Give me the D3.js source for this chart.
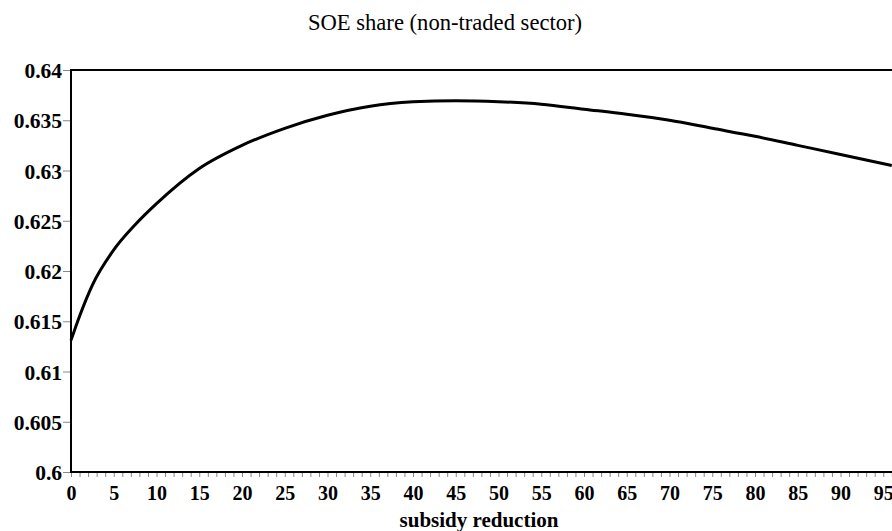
<!DOCTYPE html>
<html>
<head>
<meta charset="utf-8">
<script src="https://cdn.jsdelivr.net/npm/d3@7"></script>
</head>
<body style="margin:0;background:#fff">
<svg id="chart" width="892" height="531" style="display:block"></svg>
<script>
// ---- data ----
const xValues = [0, 1, 2.5, 5, 7.5, 10, 15, 20, 25, 30, 35, 40, 45, 50, 55, 60, 65, 70, 75, 80, 85, 90, 96];
const soeShare = [0.6131, 0.6155, 0.6186, 0.6221, 0.6246, 0.6267, 0.6302, 0.6325, 0.6342, 0.6355, 0.6364, 0.63683, 0.63695, 0.63685, 0.6366, 0.6361, 0.6356, 0.6350, 0.6342, 0.6334, 0.6325, 0.6316, 0.6305];
const yTickValues = [0.6, 0.605, 0.61, 0.615, 0.62, 0.625, 0.63, 0.635, 0.64];
const yTickLabels = ["0.6", "0.605", "0.61", "0.615", "0.62", "0.625", "0.63", "0.635", "0.64"];
const xTickLabels = [0, 5, 10, 15, 20, 25, 30, 35, 40, 45, 50, 55, 60, 65, 70, 75, 80, 85, 90, 95];
const titleText = "SOE share (non-traded sector)";
const xAxisTitle = "subsidy reduction";

(function () {
const FONT = "Liberation Serif";
const W = 892, H = 531;
const mLeft = 71, mTop = 70, mBottom = 472;
const svg = d3.select("#chart");

const x = d3.scaleLinear().domain([0, 100]).range([mLeft, mLeft + 855]);
const y = d3.scaleLinear().domain([0.6, 0.64]).range([mBottom, mTop]);

function serif(sel, size, bold) {
  sel.attr("font-family", FONT)
     .style("font-family", FONT)
     .style("font-size", size + "px")
     .style("font-weight", bold ? "bold" : "normal")
     .style("fill", "#000");
  return sel;
}

// title
serif(svg.append("text")
  .attr("x", 445).attr("y", 30)
  .attr("text-anchor", "middle"), 22.6, false)
  .text(titleText);

// minor x ticks (every unit)
const minorTicks = d3.range(0, 97, 1);
const xMinor = d3.axisBottom(x).tickValues(minorTicks).tickSize(5).tickFormat("");
const gMinor = svg.append("g").attr("transform", `translate(0,${mBottom})`).call(xMinor);
gMinor.select(".domain").remove();
gMinor.selectAll("line").attr("stroke", "#888").attr("stroke-width", 1);

// x tick labels
const xAxis = d3.axisBottom(x).tickValues(xTickLabels).tickSize(0).tickPadding(0).tickFormat(d => d);
const gx = svg.append("g").attr("transform", `translate(0,${mBottom})`).call(xAxis);
gx.attr("font-family", FONT);
gx.select(".domain").remove();
serif(gx.selectAll("text").attr("y", 28).attr("dy", 0), 20, true);

// y axis
const yAxis = d3.axisLeft(y).tickValues(yTickValues).tickSize(8).tickPadding(1)
  .tickFormat((d, i) => yTickLabels[i]);
const gy = svg.append("g").attr("transform", `translate(${mLeft},0)`).call(yAxis);
gy.attr("font-family", FONT);
gy.select(".domain").remove();
gy.selectAll("line").attr("stroke", "#888").attr("stroke-width", 1);
serif(gy.selectAll("text").attr("dy", "0.35em"), 21.5, true);

// frame lines: left, top, bottom
svg.append("line").attr("x1", mLeft).attr("x2", mLeft).attr("y1", mTop - 1).attr("y2", mBottom + 1)
  .attr("stroke", "#000").attr("stroke-width", 2);
svg.append("line").attr("x1", mLeft).attr("x2", W).attr("y1", mTop).attr("y2", mTop)
  .attr("stroke", "#000").attr("stroke-width", 2);
svg.append("line").attr("x1", mLeft).attr("x2", W).attr("y1", mBottom).attr("y2", mBottom)
  .attr("stroke", "#000").attr("stroke-width", 2);

// data line
const data = xValues.map((d, i) => ({ x: d, y: soeShare[i] }));
const line = d3.line().x(d => x(d.x)).y(d => y(d.y)).curve(d3.curveMonotoneX);
svg.append("path").datum(data)
  .attr("d", line)
  .attr("fill", "none")
  .attr("stroke", "#000")
  .attr("stroke-width", 3)
  .attr("stroke-linejoin", "round");

// x axis title
serif(svg.append("text")
  .attr("x", 479).attr("y", 527)
  .attr("text-anchor", "middle"), 21, true)
  .text(xAxisTitle);
})();
</script>
</body>
</html>
